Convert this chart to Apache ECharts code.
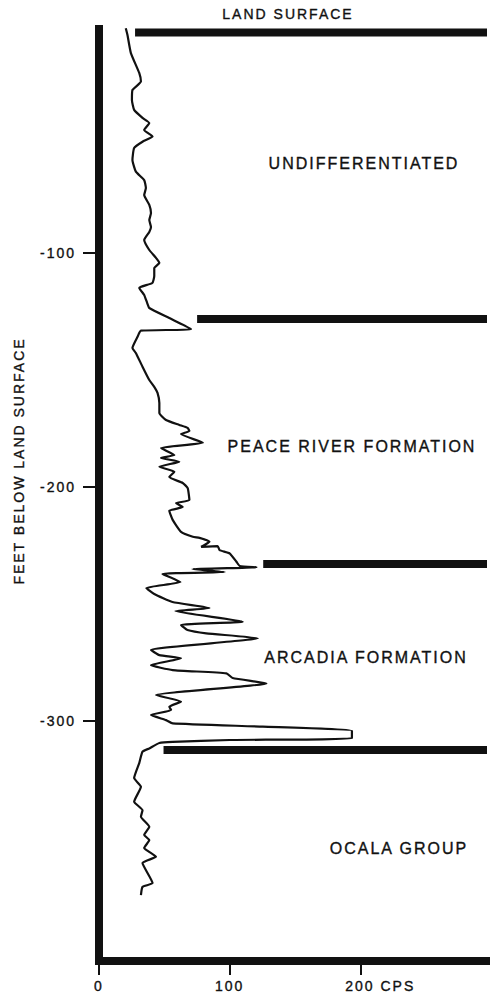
<!DOCTYPE html>
<html>
<head>
<meta charset="utf-8">
<script src="https://cdn.jsdelivr.net/npm/echarts@6/dist/echarts.min.js"></script>
<style>
  html, body { margin: 0; padding: 0; background: #fff; }
  #chart { width: 490px; height: 1001px; }
  /* widely tracked, slightly heavy lettering, as on the printed log */
  #chart text { letter-spacing: 2px; stroke: #111; stroke-width: 0.35px; }
</style>
</head>
<body>
<div id="chart"></div>
<script>
// Natural gamma log: count rate (counts per second) against depth (feet below land surface)
const gammaCps = [
  20.5, 21.8, 24.4, 30.8, 32.1, 25.6, 25.2, 26.9, 33.3, 38.5,
  34.6, 41.0, 33.3, 26.9, 25.6, 28.2, 34.6, 35.9, 34.6, 38.5,
  39.8, 38.5, 39.8, 38.5, 34.6, 38.5, 43.1, 46.2, 42.3, 42.3,
  40.8, 30.8, 34.6, 36.9, 38.5, 53.8, 70.5, 32.1, 29.5, 25.6,
  28.2, 33.3, 38.5, 42.3, 44.8, 46.2, 46.2, 51.3, 61.5, 67.9,
  69.2, 62.8, 79.5, 47.5, 57.7, 47.5, 61.5, 46.2, 57.7, 53.8,
  64.1, 67.9, 69.2, 59.0, 64.1, 53.8, 56.4, 62.8, 71.8, 76.9,
  84.6, 78.2, 90.8, 92.3, 100, 105.2, 107.7, 120.5, 71.5, 96.2,
  48.5, 62.3, 36.2, 42.3, 56.2, 84.6, 58.5, 110, 62.8, 67.7,
  82.1, 121.5, 39.8, 46.2, 62.8, 39.8, 56.4, 97.5, 102.3, 128.2,
  43.6, 62.8, 53.8, 55.2, 39.8, 51.3, 56.4, 125.4, 193.6, 193.6,
  100, 56.4, 46.2, 38.5, 33.3, 30.8, 26.9, 32.1, 26.9, 33.3,
  32.1, 38.5, 34.6, 38.5, 34.6, 43.6, 33.3, 41.0, 33.3, 32.1
];
const depthFt = [
  -3.9, -6.8, -14.5, -23.0, -26.7, -30.3, -34.6, -38.8, -42.2, -44.4,
  -47.4, -50.2, -52.4, -55.1, -60.2, -65.2, -68.8, -72.2, -75.2, -79.4,
  -82.9, -85.9, -88.9, -91.0, -94.4, -98.7, -101.7, -104.2, -106.4, -109.8,
  -112.8, -114.9, -117.9, -121.4, -123.5, -127.8, -132.5, -133.2, -135.8, -140.6,
  -142.7, -148.6, -154.3, -157.2, -159.8, -164.1, -168.4, -171.4, -173.5, -174.8,
  -176.1, -177.4, -181.1, -183.4, -186.4, -187.6, -189.2, -191.4, -193.5, -195.8,
  -198.3, -200.5, -205.6, -206.9, -208.6, -210.2, -214.1, -219.2, -221.3, -221.8,
  -223.4, -225.6, -225.3, -227.0, -228.4, -232.0, -233.8, -234.4, -235.1, -236.4,
  -237.2, -240.7, -243.2, -245.8, -249.2, -251.8, -253.1, -257.6, -259.0, -261.2,
  -262.6, -264.7, -269.7, -271.9, -273.3, -276.2, -278.3, -279.7, -281.7, -284.0,
  -289.0, -291.8, -294.0, -295.4, -297.5, -299.7, -301.1, -302.5, -304.3, -307.5,
  -308.2, -309.0, -309.5, -311.8, -313.2, -318.1, -324.5, -328.2, -334.6, -338.2,
  -341.0, -345.3, -348.8, -351.0, -354.4, -358.1, -360.8, -369.4, -371.0, -374.5
];

// Formation contacts: depth of each contact and the count rate where its bar begins
const contactDepths = [-5.7, -128.2, -233.0, -312.5];
const contactStartCps = [27.6, 75.1, 125.7, 49.4];

// Unit names written between the contacts
const unitNames = ['UNDIFFERENTIATED', 'PEACE RIVER FORMATION', 'ARCADIA FORMATION', 'OCALA GROUP'];

// Axis ticks
const depthTicks = [-100, -200, -300];
const cpsTicks = [0, 100, 200];

const CPS_MAX = 297;
const DEPTH_TOP = -4.2;
const DEPTH_BOTTOM = -402.7;

const FONT = "'Liberation Sans', 'DejaVu Sans', sans-serif";
const INK = '#111';

const chart = echarts.init(document.getElementById('chart'), null, { renderer: 'svg' });

const logData = gammaCps.map((c, i) => [c, depthFt[i]]);

const contactSeries = contactDepths.map((d, i) => ({
  type: 'line',
  data: [[contactStartCps[i], d], [CPS_MAX, d]],
  symbol: 'none',
  silent: true,
  clip: false,
  lineStyle: { color: INK, width: 8, cap: 'butt' },
  z: 3
}));

const unitLabelPos = [
  { x: 364, y: 163 },
  { x: 352, y: 446 },
  { x: 366, y: 657 },
  { x: 399, y: 848 }
];

chart.setOption({
  backgroundColor: '#fff',
  animation: false,
  grid: { left: 99, right: 3, top: 29, height: 932 },
  xAxis: {
    type: 'value',
    min: 0,
    max: CPS_MAX,
    axisLine: { show: true, lineStyle: { color: INK, width: 8, cap: 'square' } },
    axisTick: { show: true, customValues: cpsTicks, length: 14, lineStyle: { color: INK, width: 2 } },
    axisLabel: {
      customValues: cpsTicks,
      margin: 18,
      color: INK,
      fontFamily: FONT,
      fontSize: 14,
      formatter: v => (v === 200 ? '{c|200 CPS}' : String(v)),
      rich: { c: { padding: [0, 0, 0, 40], color: INK, fontFamily: FONT, fontSize: 14 } }
    },
    splitLine: { show: false }
  },
  yAxis: {
    type: 'value',
    min: DEPTH_BOTTOM,
    max: DEPTH_TOP,
    axisLine: { show: true, lineStyle: { color: INK, width: 8, cap: 'square' } },
    axisTick: { show: true, customValues: depthTicks, length: 16, lineStyle: { color: INK, width: 2 } },
    axisLabel: { customValues: depthTicks, margin: 23, color: INK, fontFamily: FONT, fontSize: 14 },
    splitLine: { show: false }
  },
  series: [
    {
      type: 'line',
      data: logData,
      symbol: 'none',
      clip: false,
      smooth: 0.15,
      lineStyle: { color: INK, width: 2.2 },
      z: 4
    },
    ...contactSeries
  ],
  graphic: [
    {
      type: 'text', x: 288, y: 14,
      style: { text: 'LAND SURFACE', font: '14px ' + FONT, fill: INK, textAlign: 'center', textVerticalAlign: 'middle' }
    },
    {
      type: 'text', x: 19, y: 461, rotation: Math.PI / 2,
      style: { text: 'FEET BELOW LAND SURFACE', font: '14px ' + FONT, fill: INK, textAlign: 'center', textVerticalAlign: 'middle' }
    },
    ...unitNames.map((name, i) => ({
      type: 'text', x: unitLabelPos[i].x, y: unitLabelPos[i].y,
      style: { text: name, font: '16px ' + FONT, fill: INK, textAlign: 'center', textVerticalAlign: 'middle' }
    }))
  ]
});
</script>
</body>
</html>
